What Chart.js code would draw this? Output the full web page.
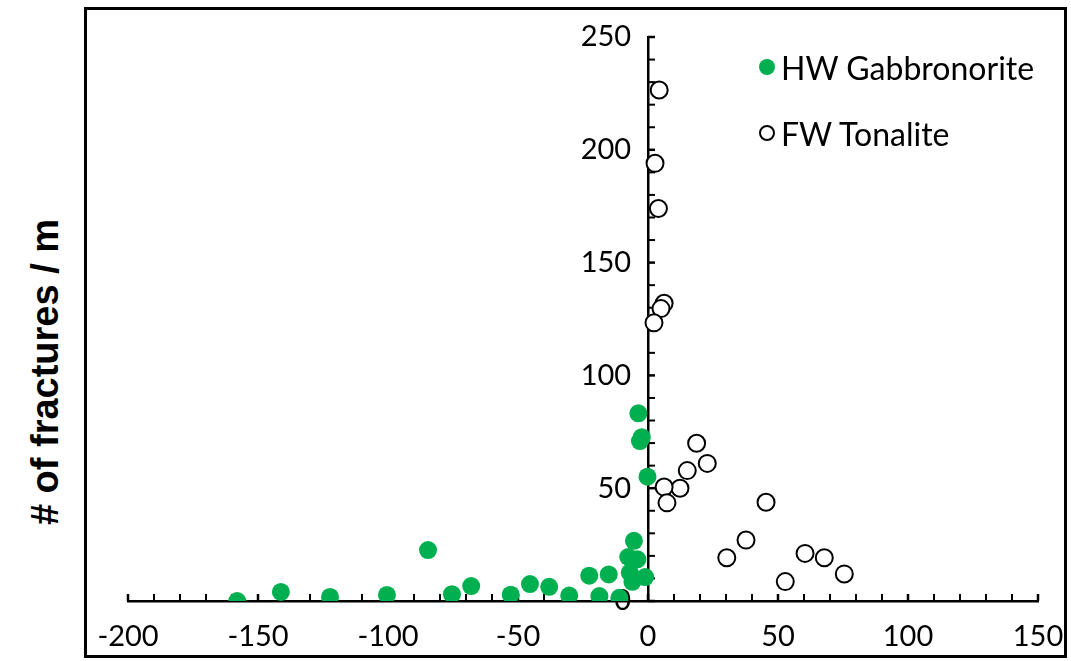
<!DOCTYPE html>
<html>
<head>
<meta charset="utf-8">
<script src="https://cdn.jsdelivr.net/npm/chart.js@4.4.1/dist/chart.umd.min.js"></script>
<style>
  html, body { margin: 0; padding: 0; background: #fff; }
  body { width: 1071px; height: 661px; position: relative; overflow: hidden; }
  #wrap { position: absolute; left: 68px; top: 0; width: 1030px; height: 661px; }
  #frame { position: absolute; left: 84px; top: 7px; width: 983px; height: 651px; box-sizing: border-box;
           border: 3px solid #000; background: transparent; }
  #yTitle { position: absolute; left: 45px; top: 372px; transform: translate(-50%, -50%) rotate(-90deg);
            font: bold 38px "Liberation Sans", Arial, sans-serif; white-space: nowrap; color: #000; }
  .leg { position: absolute; left: 759px; font: 32px Lato, sans-serif; color: #000; white-space: nowrap;
         display: flex; align-items: center; height: 38px; }
  .mark { display: inline-block; width: 16px; height: 16px; border-radius: 50%; margin-right: 6px; box-sizing: border-box; }
</style>
</head>
<body>
<div id="wrap"><canvas id="myChart"></canvas></div>
<div id="frame"></div>
<div id="yTitle"># of fractures / m</div>
<div id="legend"></div>
<script>
// series names
var seriesNames = ["HW Gabbronorite", "FW Tonalite"];

// HW Gabbronorite (distance, fractures per m)
var gabX = [-158, -141.2, -122.3, -100.4, -84.6, -75.4, -68, -52.8, -45.4, -38, -30.3, -22.6, -18.7,
            -15.1, -11, -5.4, -7.6, -4.1, -7, -6, -1.1, -3.7, -2.4, -3.1, -0.2];
var gabY = [0, 4, 1.8, 2.7, 22.6, 3, 6.6, 2.8, 7.5, 6.3, 2.4, 11.2, 2.2,
            11.8, 1.4, 26.7, 19.5, 18.5, 12.6, 8.5, 10.6, 83.2, 72.6, 70.9, 55.1];

// FW Tonalite
var tonX = [4.3, 2.7, 4, 6.2, 5, 2.3, 18.7, 15.1, 22.8, 12.3, 6.2, 7.3, 45.4, 37.7, 30.3, 52.8, 60.4, 67.8, 75.5];
var tonY = [226.5, 194, 174, 132, 129.6, 123.3, 69.9, 57.8, 61, 50, 50.5, 43.5, 43.8, 27, 19.2, 8.6, 21.1, 19.2, 12];

// axis ranges / tick steps
var xMin = -200, xMax = 150, yMin = 0, yMax = 250;
var minorStep = 10, labelStep = 50;

var green = '#00B050';

function toPoints(xs, ys) {
  var pts = [];
  for (var i = 0; i < xs.length; i++) {
    pts.push({x: xs[i], y: ys[i]});
  }
  return pts;
}

function xLabel(v) {
  return v % labelStep === 0 ? String(v) : '';
}

// y labels sit right against an axis placed at x = 0, so pad them with a figure space
function yLabel(v) {
  return v % labelStep === 0 ? String(v) + '\u2007' : '';
}

// Tick marks point into the plot, so draw them ourselves.
var innerTicks = {
  id: 'innerTicks',
  beforeDatasetsDraw: function(chart) {
    var ctx = chart.ctx;
    var xs = chart.scales.x, ys = chart.scales.y;
    var x0 = xs.getPixelForValue(0), y0 = ys.getPixelForValue(0);
    ctx.save();
    ctx.strokeStyle = '#000';
    xs.ticks.forEach(function(t) {
      var px = xs.getPixelForValue(t.value);
      ctx.lineWidth = t.value % labelStep === 0 ? 2.5 : 2;
      ctx.beginPath();
      ctx.moveTo(px, y0);
      ctx.lineTo(px, y0 - 7);
      ctx.stroke();
    });
    ys.ticks.forEach(function(t) {
      var py = ys.getPixelForValue(t.value);
      ctx.lineWidth = t.value % labelStep === 0 ? 2.5 : 2;
      ctx.beginPath();
      ctx.moveTo(x0, py);
      ctx.lineTo(x0 + 7, py);
      ctx.stroke();
    });
    ctx.restore();
  }
};

var tickFont = {family: 'Lato', size: 29};

var ctx = document.getElementById('myChart');
var myChart = new Chart(ctx, {
  type: 'scatter',
  data: {
    datasets: [{
      label: seriesNames[0],
      data: toPoints(gabX, gabY),
      pointRadius: 9,
      pointBackgroundColor: green,
      pointBorderColor: green,
      pointBorderWidth: 0
    }, {
      label: seriesNames[1],
      data: toPoints(tonX, tonY),
      pointRadius: 8.5,
      pointBackgroundColor: '#fff',
      pointBorderColor: '#000',
      pointBorderWidth: 2
    }]
  },
  options: {
    responsive: true,
    maintainAspectRatio: false,
    animation: false,
    layout: { padding: { left: 60, right: 60, top: 37, bottom: 60 } },
    plugins: {
      legend: { display: false },
      tooltip: { enabled: false }
    },
    scales: {
      x: {
        type: 'linear',
        position: { y: 0 },
        min: xMin, max: xMax,
        grid: { display: true, drawOnChartArea: false, drawTicks: false },
        border: { display: true, color: '#000', width: 2.5 },
        ticks: { stepSize: minorStep, autoSkip: false, maxRotation: 0, padding: 18,
                 color: '#000', font: tickFont, callback: xLabel }
      },
      y: {
        type: 'linear',
        position: { x: 0 },
        min: yMin, max: yMax,
        grid: { display: true, drawOnChartArea: false, drawTicks: false },
        border: { display: true, color: '#000', width: 2.5 },
        ticks: { stepSize: minorStep, autoSkip: false, padding: 0,
                 color: '#000', font: tickFont, callback: yLabel }
      }
    }
  },
  plugins: [innerTicks]
});

// Legend as html text
var legendTop = [48, 114];
var legend = document.getElementById('legend');
myChart.data.datasets.forEach(function(ds, i) {
  var item = document.createElement('div');
  item.className = 'leg';
  item.style.top = legendTop[i] + 'px';
  var mark = document.createElement('span');
  mark.className = 'mark';
  mark.style.background = ds.pointBackgroundColor;
  if (i === 1) {
    mark.style.border = '2px solid #000';
  }
  item.appendChild(mark);
  item.appendChild(document.createTextNode(ds.label));
  legend.appendChild(item);
});
</script>
</body>
</html>
